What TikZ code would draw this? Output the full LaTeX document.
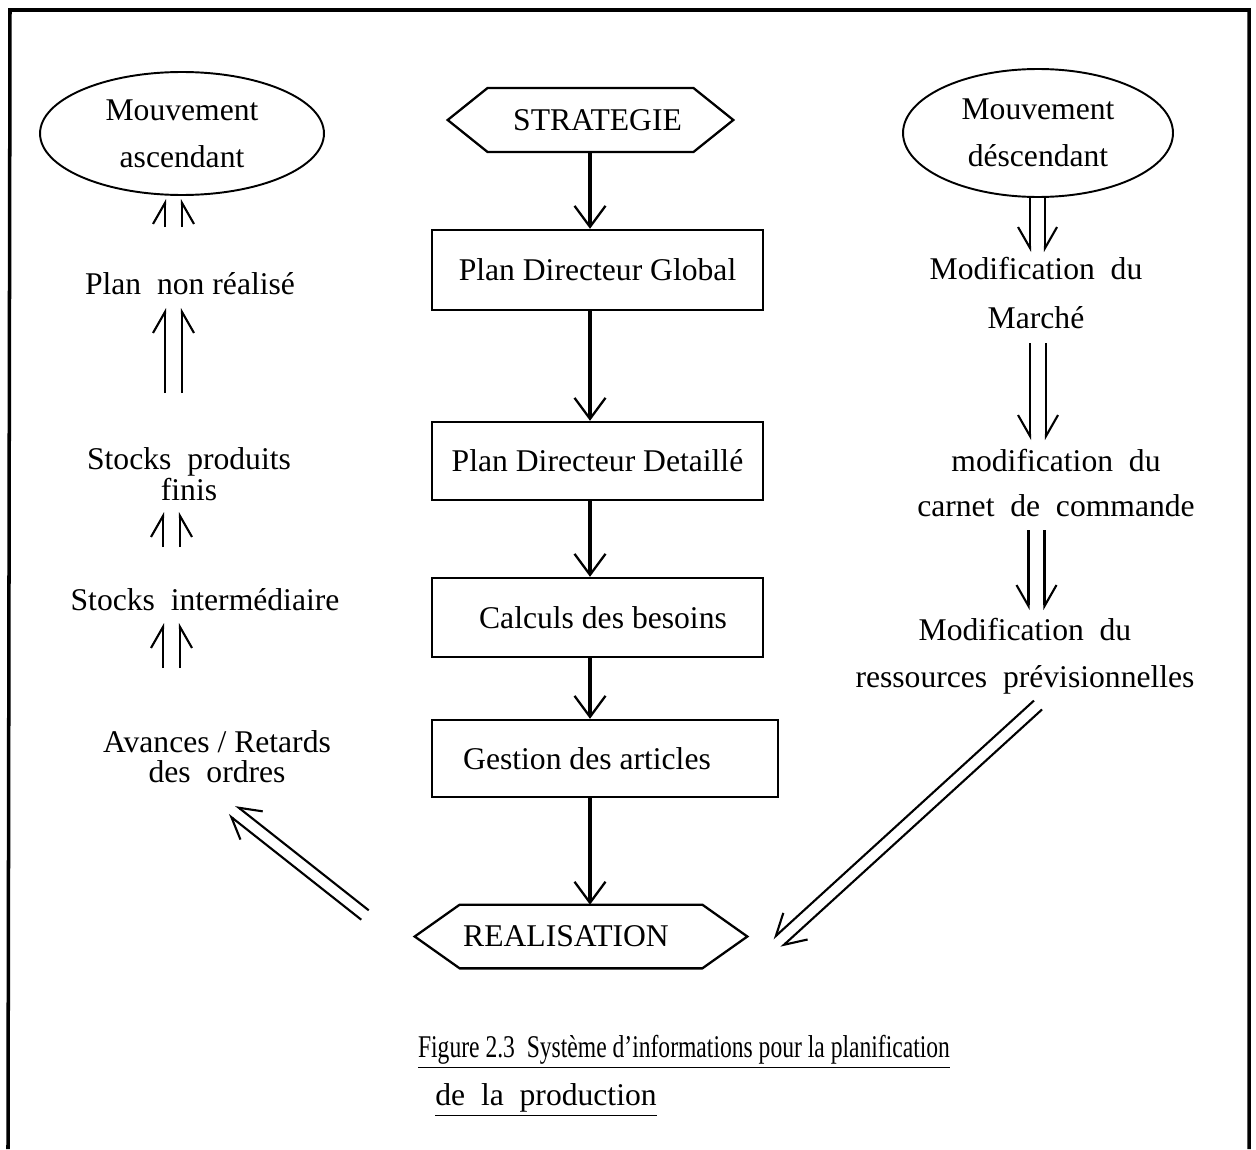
\documentclass[tikz,border=0pt]{standalone}
\usepackage{fontspec}
\setmainfont{Liberation Serif}
\usetikzlibrary{arrows.meta,shapes.geometric,calc}

% pair of parallel half-headed arrows, barbs on the outer sides
\newcommand\twinarrow[3]{%
  \draw[twinline,-{Straight Barb[left,length=0.42cm,width=0.48cm]}]
    ($(#1)!#3!90:(#2)$) -- ($(#2)!#3!-90:(#1)$);
  \draw[twinline,-{Straight Barb[right,length=0.42cm,width=0.48cm]}]
    ($(#1)!#3!-90:(#2)$) -- ($(#2)!#3!90:(#1)$);
}

\begin{document}
\begin{tikzpicture}[x=0.02cm,y=-0.02cm,
  every node/.style={inner sep=0pt,align=center},
  txt/.style={font=\fontsize{18}{#1}\selectfont},
  txt/.default=21,
  oval/.style={ellipse,draw,line width=1.1pt,txt=26.6},
  stepbox/.style={rectangle,draw,line width=1.4pt,txt},
  hexnode/.style={txt,minimum height=1.27cm},
  hexline/.style={line width=1.3pt,line join=miter},
  mainarrow/.style={line width=2.5pt,-{Straight Barb[length=0.42cm,width=0.62cm,line width=1.3pt]}},
  twinline/.style={line width=1.2pt},
  frame/.style={line width=2pt}
]
\useasboundingbox (0,0) rectangle (1256,1149);

% page frame
\draw[frame] (8,1149) -- (10,10) -- (1249,10) -- (1249,1149);

% central chain
\coordinate (spine) at (590,0);
\node[hexnode,minimum width=5.7cm] (strat) at (590.5,120) {\hspace{0.28cm}STRATEGIE};
\draw[hexline] (strat.west) -- ([xshift=0.8cm]strat.north west) -- ([xshift=-0.8cm]strat.north east)
  -- (strat.east) -- ([xshift=-0.8cm]strat.south east) -- ([xshift=0.8cm]strat.south west) -- cycle;

\node[stepbox,minimum width=6.62cm,minimum height=1.6cm] (pdg) at (597.5,270) {Plan Directeur Global};
\node[stepbox,minimum width=6.62cm,minimum height=1.56cm] (pdd) at (597.5,461) {Plan Directeur Detaillé};
\node[stepbox,minimum width=6.62cm,minimum height=1.58cm] (cdb) at (597.5,617.5) {\hspace{0.22cm}Calculs des besoins};
\node[stepbox,minimum width=6.92cm,minimum height=1.54cm] (gda) at (605,758.5) {Gestion des articles\hspace{0.72cm}};

\node[hexnode,minimum width=6.64cm,minimum height=1.26cm] (real) at (581,936.5) {REALISATION\hspace{0.6cm}};
\draw[hexline] (real.west) -- ([xshift=0.9cm]real.north west) -- ([xshift=-0.9cm]real.north east)
  -- (real.east) -- ([xshift=-0.9cm]real.south east) -- ([xshift=0.9cm]real.south west) -- cycle;

\draw[mainarrow] (spine |- strat.south) -- (spine |- pdg.north);
\draw[mainarrow] (spine |- pdg.south) -- (spine |- pdd.north);
\draw[mainarrow] (spine |- pdd.south) -- (spine |- cdb.north);
\draw[mainarrow] (spine |- cdb.south) -- (spine |- gda.north);
\draw[mainarrow] (spine |- gda.south) -- (spine |- real.north);

% upward movement (left column)
\node[oval,minimum width=5.68cm,minimum height=2.46cm] (asc) at (182,133.5) {Mouvement\\ascendant};
\node[txt] (pnr) at (190,284) {Plan\ \ non réalisé};
\node[txt=16.5] (spf) at (189,474) {Stocks\ \ produits\\finis\hspace{0.5cm}};
\node[txt] (sint) at (205,600) {Stocks\ \ intermédiaire};
\node[txt=17] (avr) at (217,757) {Avances / Retards\\des\ \ ordres\hspace{0.7cm}};

\coordinate (u1a) at (173.5,227); \coordinate (u1b) at (173.5,199);
\coordinate (u2a) at (173.5,393); \coordinate (u2b) at (173.5,308);
\coordinate (u3a) at (171.5,547); \coordinate (u3b) at (171.5,512);
\coordinate (u4a) at (171.5,668); \coordinate (u4b) at (171.5,623);
\coordinate (d0a) at (365,915);   \coordinate (d0b) at (232,810);
\twinarrow{u1a}{u1b}{0.17cm}
\twinarrow{u2a}{u2b}{0.17cm}
\twinarrow{u3a}{u3b}{0.17cm}
\twinarrow{u4a}{u4b}{0.17cm}
\twinarrow{d0a}{d0b}{0.12cm}

% downward movement (right column)
\node[oval,minimum width=5.4cm,minimum height=2.56cm] (desc) at (1038,133) {Mouvement\\déscendant};
\node[txt=28] (mm) at (1036,293) {Modification\ \ du\\Marché};
\node[txt=26] (mcc) at (1056,483) {modification\ \ du\\carnet\ \ de\ \ commande};
\node[txt=27] (mrp) at (1025,656) {Modification\ \ du\\ressources\ \ prévisionnelles};

\coordinate (r1a) at (1037.5,197); \coordinate (r1b) at (1037.5,252);
\coordinate (r2a) at (1038,343);   \coordinate (r2b) at (1038,440);
\coordinate (r3a) at (1036.5,530); \coordinate (r3b) at (1036.5,610);
\coordinate (d1a) at (1038,705);   \coordinate (d1b) at (777,943);
\twinarrow{r1a}{r1b}{0.15cm}
\twinarrow{r2a}{r2b}{0.16cm}
\twinarrow{r3a}{r3b}{0.16cm}
\twinarrow{d1a}{d1b}{0.12cm}

% caption
\node[txt] (cap1) at (684,1052) {\resizebox{10.64cm}{\height}{\underline{Figure 2.3\ \ Système d'informations pour la planification}}};
\node[txt] (cap2) at (546,1100) {\underline{de\ \ la\ \ production}};
\end{tikzpicture}
\end{document}
